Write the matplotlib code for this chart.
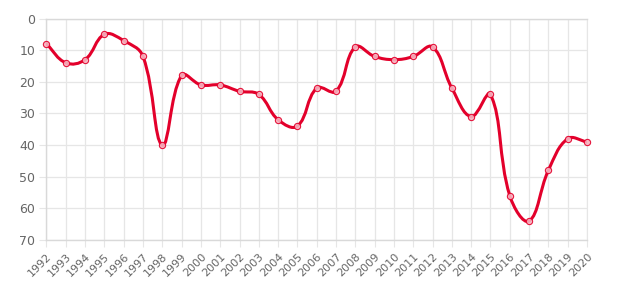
import numpy as np
import matplotlib
matplotlib.use('Agg')
import matplotlib.pyplot as plt
from matplotlib.path import Path
from matplotlib.patches import PathPatch

years = list(range(1992, 2021))
ranks = [8, 14, 13, 5, 7, 12, 40, 18, 21, 21, 23, 24, 32, 34, 22, 23,
         9, 12, 13, 12, 9, 22, 31, 24, 56, 64, 48, 38, 39]
y_ticks = [0, 10, 20, 30, 40, 50, 60, 70]

LINE_COLOR = '#e3002b'
GRID_COLOR = '#e6e6e6'
TEXT_COLOR = '#666666'
TENSION = 0.4


def spline_controls(pts, tension):
    """Bezier control points (tension spline), worked out in pixel space."""
    n = len(pts)
    cps = []
    for i in range(n):
        prev = pts[max(i - 1, 0)]
        cur = pts[i]
        nxt = pts[min(i + 1, n - 1)]
        d01 = np.hypot(*(cur - prev))
        d12 = np.hypot(*(nxt - cur))
        tot = d01 + d12
        s01 = d01 / tot if tot else 0
        s12 = d12 / tot if tot else 0
        c_prev = cur - tension * s01 * (nxt - prev)
        c_next = cur + tension * s12 * (nxt - prev)
        cps.append((c_prev, c_next))
    return cps


fig = plt.figure(figsize=(6.23, 2.91), dpi=100)
ax = fig.add_axes([0.0746, 0.1753, 0.8676, 0.7611])
ax.set_xlim(years[0], years[-1])
ax.set_ylim(70, 0)

# smooth curve: control points in display coords, then back to data coords
disp = ax.transData.transform(np.column_stack([years, ranks]))
cps = spline_controls(disp, TENSION)
verts = [disp[0]]
codes = [Path.MOVETO]
for i in range(len(disp) - 1):
    verts += [cps[i][1], cps[i + 1][0], disp[i + 1]]
    codes += [Path.CURVE4] * 3
verts = ax.transData.inverted().transform(np.array(verts))
ax.add_patch(PathPatch(Path(verts, codes), fill=False, edgecolor=LINE_COLOR,
                       linewidth=2.2, zorder=3, capstyle='round'))

ax.plot(years, ranks, linestyle='none', marker='o', markersize=4.5,
        markerfacecolor='#f7b3c0', markeredgecolor=LINE_COLOR,
        markeredgewidth=0.8, alpha=0.9, zorder=4, clip_on=False)

ax.set_xticks(years)
ax.set_xticklabels([str(y) for y in years], rotation=45, ha='right',
                   rotation_mode='anchor', fontsize=8, color=TEXT_COLOR)
ax.set_yticks(y_ticks)
ax.set_yticklabels([str(v) for v in y_ticks], fontsize=9, color=TEXT_COLOR)
ax.grid(True, color=GRID_COLOR, linewidth=0.9)
ax.set_axisbelow(True)
ax.tick_params(axis='both', length=5, color=GRID_COLOR, pad=3)
for side in ['left', 'bottom', 'top']:
    ax.spines[side].set_color('#d9d9d9')
    ax.spines[side].set_linewidth(1.0)
ax.spines['right'].set_color(GRID_COLOR)

fig.savefig('out.png', dpi=100)
